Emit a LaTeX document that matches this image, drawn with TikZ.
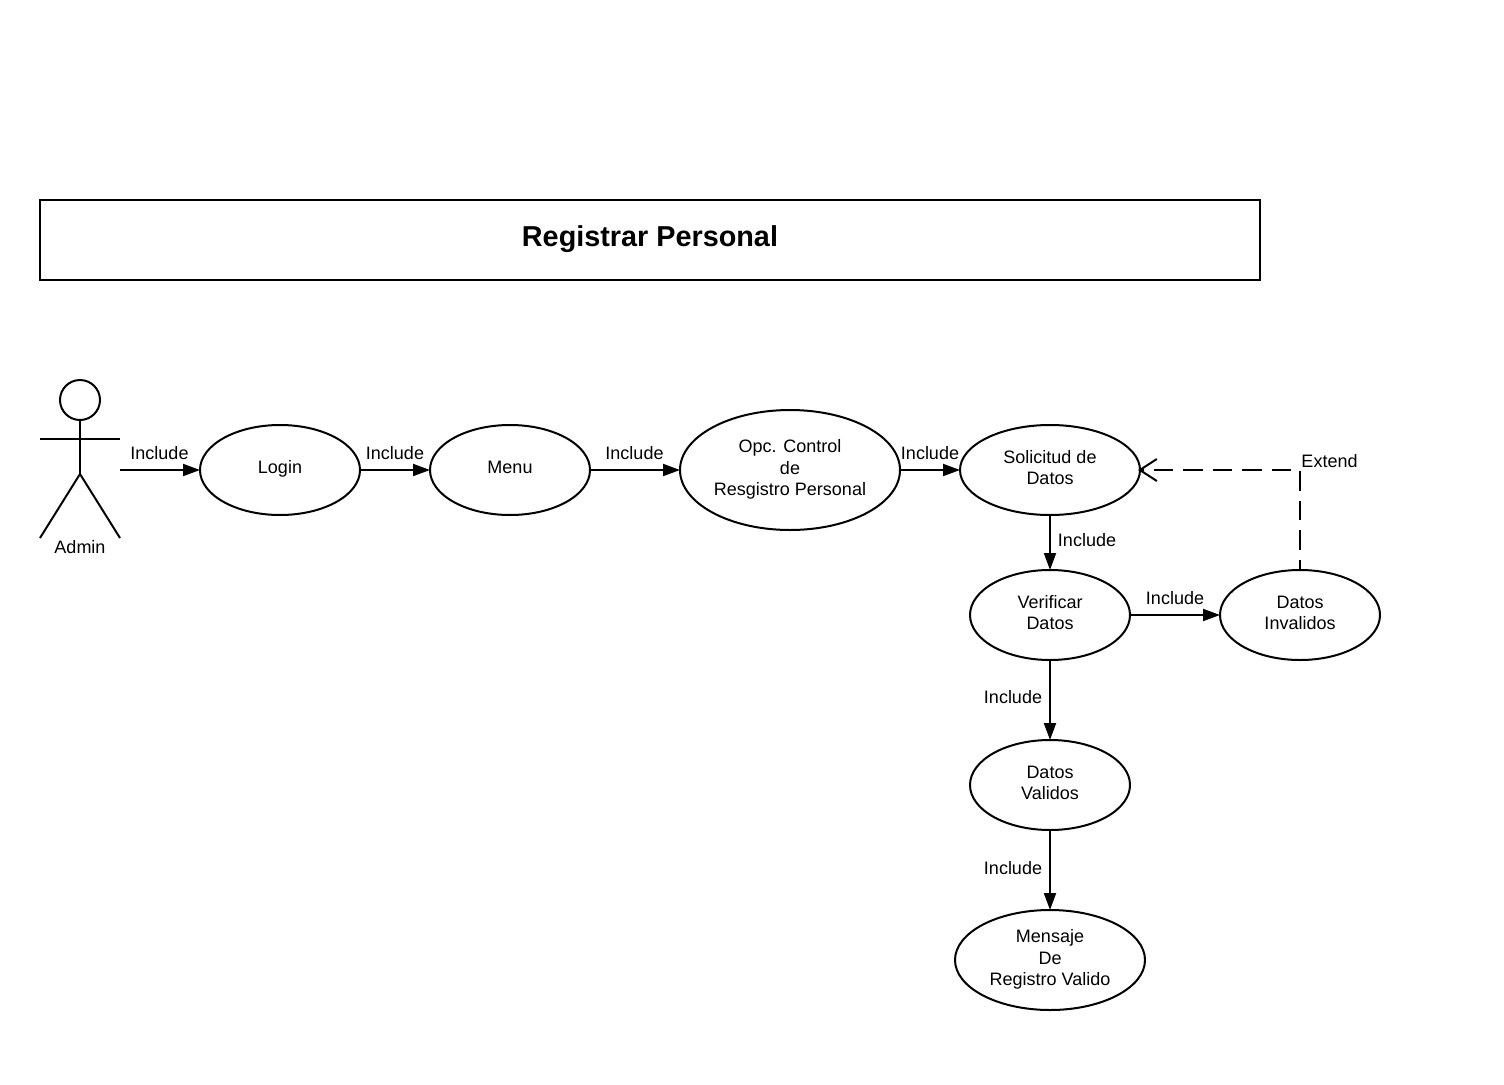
\documentclass[tikz,border=0pt]{standalone}
\usepackage{fontspec}
\setmainfont{Liberation Sans}
\usetikzlibrary{arrows.meta,shapes.geometric}
\newcommand{\uctext}[1]{\raisebox{8.5pt}{\begin{tabular}{@{}c@{}}#1\end{tabular}}}
\tikzset{
  x=1pt,y=-1pt,
  uc/.style={draw,ellipse,line width=2pt,inner sep=0pt,outer sep=0pt,font=\fontsize{18}{21.4}\selectfont,text=black},
  lbl/.style={font=\fontsize{18}{21}\selectfont,inner sep=0pt},
  flow/.style={line width=2pt,-{Triangle[length=17pt,width=12pt]}},
  ext/.style={line width=2pt,dash pattern=on 19.5pt off 10pt,dash phase=9pt,-{Straight Barb[length=17pt,width=22pt,line width=2pt]}},
  limb/.style={line width=2pt}
}
\begin{document}
\begin{tikzpicture}
\useasboundingbox (0,0) rectangle (1504,1084);
\node[draw,line width=2pt,minimum width=1220pt,minimum height=80pt,inner sep=0pt,outer sep=0pt] (title) at (650,240) {};
\node[inner sep=0pt,font=\bfseries\fontsize{28.8}{34}\selectfont] (titletext) at (650,239) {Registrar Personal};
% actor
\node[draw,circle,line width=2pt,minimum size=40pt,inner sep=0pt,outer sep=0pt] (head) at (80,400) {};
\coordinate (hip) at (80,474);
\coordinate (armL) at (40,439);
\coordinate (armR) at (120,439);
\coordinate (legL) at (40,538);
\coordinate (legR) at (120,538);
\draw[limb] (head.south) -- (hip);
\draw[limb] (armL) -- (armR);
\draw[limb] (legL) -- (hip) -- (legR);
\node[lbl] (admin) at (80,547) {Admin};
\coordinate (actor) at (120,470);
% use cases
\node[uc,minimum width=160pt,minimum height=90pt] (login) at (280,470) {\uctext{Login}};
\node[uc,minimum width=160pt,minimum height=90pt] (menu) at (510,470) {\uctext{Menu}};
\node[uc,minimum width=220pt,minimum height=120pt] (opc) at (790,470) {\uctext{Opc. Control\\de\\Resgistro Personal}};
\node[uc,minimum width=180pt,minimum height=90pt] (sol) at (1050,470) {\uctext{Solicitud de\\Datos}};
\node[uc,minimum width=160pt,minimum height=90pt] (ver) at (1050,615) {\uctext{Verificar\\Datos}};
\node[uc,minimum width=160pt,minimum height=90pt] (inv) at (1300,615) {\uctext{Datos\\Invalidos}};
\node[uc,minimum width=160pt,minimum height=90pt] (val) at (1050,785) {\uctext{Datos\\Validos}};
\node[uc,minimum width=190pt,minimum height=100pt] (msg) at (1050,960) {\uctext{Mensaje\\De\\Registro Valido}};
% connectors
\draw[flow] (actor) -- (login.west);
\draw[flow] (login.east) -- (menu.west);
\draw[flow] (menu.east) -- (opc.west);
\draw[flow] (opc.east) -- (sol.west);
\draw[flow] (sol.south) -- (ver.north);
\draw[flow] (ver.east) -- (inv.west);
\draw[flow] (ver.south) -- (val.north);
\draw[flow] (val.south) -- (msg.north);
\draw[ext] (inv.north) -- (inv.north |- sol.east) -- ([xshift=-2pt]sol.east);
% labels
\node[lbl] (l1) at (159.5,453) {Include};
\node[lbl] (l2) at (395,453) {Include};
\node[lbl] (l3) at (634.5,453) {Include};
\node[lbl] (l4) at (930,453) {Include};
\node[lbl] (l5) at (1087,540) {Include};
\node[lbl] (l6) at (1175,598) {Include};
\node[lbl] (l7) at (1013,697) {Include};
\node[lbl] (l8) at (1013,868) {Include};
\node[lbl] (l9) at (1329.5,461) {Extend};
\end{tikzpicture}
\end{document}
